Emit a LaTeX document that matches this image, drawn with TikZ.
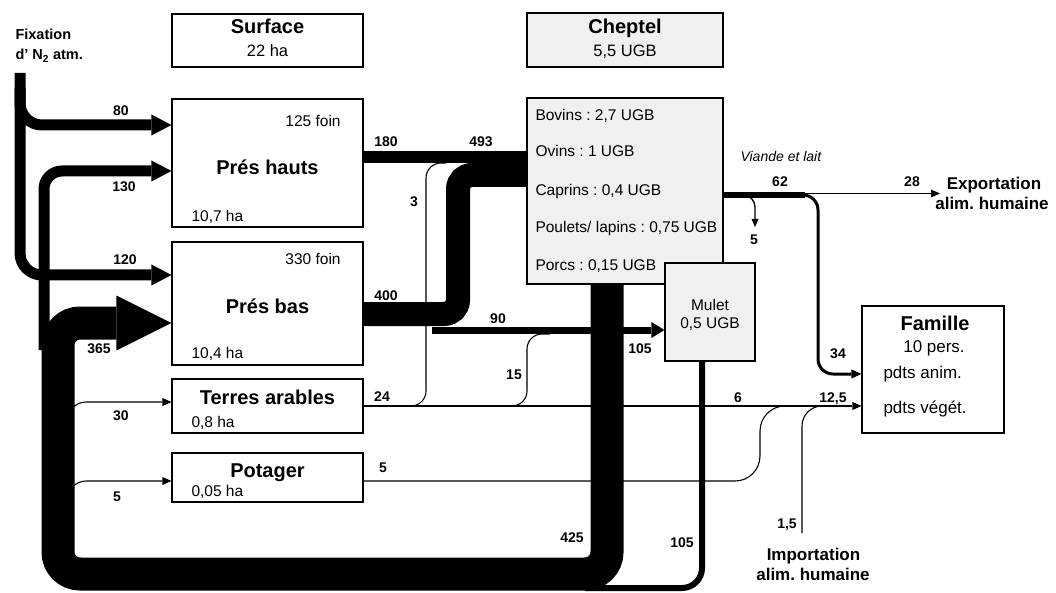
\documentclass[tikz,border=0pt]{standalone}
\usepackage{fontspec}
\setmainfont{Liberation Sans}
\usetikzlibrary{arrows.meta}
\frenchspacing

\begin{document}
\begin{tikzpicture}
	[x=1pt,y=-1pt,
	box/.style={draw,line width=1.1pt,inner sep=0pt},
	grey/.style={fill=black!6},
	title/.style={anchor=base,font=\fontsize{20}{24}\selectfont\bfseries},
	txt/.style={anchor=base,font=\fontsize{15.5}{18}\selectfont},
	lbl/.style={anchor=base,font=\fontsize{14}{17}\selectfont\bfseries},
	far/.style={anchor=base,font=\fontsize{17}{20}\selectfont\bfseries},
	fat/.style={line width=11pt,rounded corners=22pt,-{Triangle[length=20pt,width=21pt,line width=0pt]}},
	thin/.style={line width=1.1pt,-{Triangle[length=9pt,width=8pt,line width=0pt]}}]
	
	\useasboundingbox (0,0) rectangle (1056,593);
	
	% boxes
	\node[box,minimum width=191pt,minimum height=53pt] (surf) at (267.5,40.5) {};
	\node[box,grey,minimum width=196pt,minimum height=54pt] (chephead) at (625,40) {};
	\node[box,minimum width=191pt,minimum height=128pt] (hauts) at (267.5,163) {};
	\node[box,minimum width=191pt,minimum height=123pt] (bas) at (267.5,303.5) {};
	\node[box,minimum width=191pt,minimum height=54pt] (ter) at (267.5,406) {};
	\node[box,minimum width=191pt,minimum height=49pt] (pot) at (267.5,477.5) {};
	\node[box,grey,minimum width=196pt,minimum height=186pt] (chep) at (625,191) {};
	\node[box,grey,minimum width=90pt,minimum height=98pt] (mulet) at (710,312) {};
	\node[box,minimum width=142pt,minimum height=127pt] (fam) at (933,369.5) {};
	
	% texts
	\node[anchor=base west,font=\fontsize{14.5}{17}\selectfont\bfseries] (fix1) at (12,40) {Fixation};
	\node[anchor=base west,font=\fontsize{14.5}{17}\selectfont\bfseries] (fix2) at (12,60) {d' N\textsubscript{2} atm.};
	\node[title] (surft) at (267.5,34) {Surface};
	\node[txt,font=\fontsize{16.5}{19}\selectfont] (surfha) at (267.5,57) {22 ha};
	\node[title] (chept) at (625,34) {Cheptel};
	\node[txt,font=\fontsize{16.5}{19}\selectfont] (chepugb) at (625,57) {5,5 UGB};
	\node[txt] (hautsfoin) at (313,127) {125 foin};
	\node[title] (hautst) at (267.5,175) {Prés hauts};
	\node[txt,anchor=base west] (hautsha) at (188,222) {10,7 ha};
	\node[txt] (basfoin) at (313,265) {330 foin};
	\node[title] (bast) at (267.5,313) {Prés bas};
	\node[txt,anchor=base west] (basha) at (188,358) {10,4 ha};
	\node[title] (tert) at (267.5,404) {Terres arables};
	\node[txt,anchor=base west] (terha) at (188,427) {0,8 ha};
	\node[title] (pott) at (267.5,477) {Potager};
	\node[txt,anchor=base west] (potha) at (188,496) {0,05 ha};
	\node[txt,anchor=base west] (bovins) at (532,121) {Bovins : 2,7 UGB};
	\node[txt,anchor=base west] (ovins) at (532,157) {Ovins : 1 UGB};
	\node[txt,anchor=base west] (caprins) at (532,196) {Caprins : 0,4 UGB};
	\node[txt,anchor=base west] (poulets) at (532,233) {Poulets/ lapins : 0,75 UGB};
	\node[txt,anchor=base west] (porcs) at (532,271) {Porcs : 0,15 UGB};
	\node[txt] (mulett) at (710,310) {Mulet};
	\node[txt] (muletugb) at (710,328) {0,5 UGB};
	\node[title] (famt) at (935,330) {Famille};
	\node[txt,font=\fontsize{17}{20}\selectfont] (fampers) at (934,352) {10 pers.};
	\node[txt,anchor=base west,font=\fontsize{17}{20}\selectfont] (famanim) at (880,378) {pdts anim.};
	\node[txt,anchor=base west,font=\fontsize{17}{20}\selectfont] (famveg) at (880,413) {pdts végét.};
	\node[anchor=base west,font=\fontsize{14}{17}\selectfont\itshape] (viande) at (737,162) {Viande et lait};
	\node[far] (expo1) at (994,190) {Exportation};
	\node[far] (expo2) at (992,210) {alim. humaine};
	\node[far] (impo1) at (813.5,560) {Importation};
	\node[far] (impo2) at (813,580) {alim. humaine};
	
	% fixation d'azote
	\coordinate (fixtop) at (20,73);
	\draw[fat] (fixtop) -- (20,275) -- (bas.west |- 0,275);
	\draw[fat] (20,88) -- (20,125) -- (hauts.west |- 0,125);
	
	% fumier
	\draw[line width=33pt,rounded corners=22pt,-{Triangle[length=55pt,width=55pt,line width=0pt]}]
	(chep.south -| 607,0) -- (607,574) -- (58,574) -- (58,323) -- (bas.west |- 0,323);
	\draw[fat,rounded corners=18pt] (44,350) -- (44,171) -- (hauts.west |- 0,171);
	\draw[thin,rounded corners=18pt] (68,430) -- (68,402) -- (ter.west |- 0,402);
	\draw[thin,rounded corners=18pt] (68,505) -- (68,481) -- (pot.west |- 0,481);
	\draw[line width=6pt,rounded corners=20pt] (mulet.south -| 702,0) -- (702,588) -- (585,588);
	
	% fourrages
	\draw[line width=12pt] (hauts.east |- 0,157) -- (chep.west |- 0,157);
	\draw[line width=24pt,rounded corners=14pt] (bas.east |- 0,314) -- (458,314) -- (458,175) -- (chep.west |- 0,175);
	\draw[line width=7pt,-{Triangle[length=13pt,width=16pt,line width=0pt]}] (432,330) -- (mulet.west |- 0,330);
	\draw[line width=1.1pt,rounded corners=15pt] (ter.east |- 0,406) -- (426,406) -- (426,163) -- (446,163);
	\draw[line width=1.1pt,rounded corners=15pt] (ter.east |- 0,406) -- (527,406) -- (527,334) -- (550,334);
	
	% alimentation humaine
	\draw[thin] (ter.east |- 0,406) -- (fam.west |- 0,406);
	\draw[line width=1.1pt,rounded corners=25pt] (pot.east |- 0,481) -- (760,481) -- (760,406) -- (795,406);
	\coordinate (impsrc) at (802,533);
	\draw[line width=1.1pt,rounded corners=20pt] (impsrc) -- (802,406) -- (828,406);
	\draw[line width=6pt] (chep.east |- 0,195) -- (805,195);
	\coordinate (expend) at (940,193.5);
	\draw[thin] (800,193.5) -- (expend);
	\draw[line width=3pt,rounded corners=15pt,-{Triangle[length=10pt,width=9pt,line width=0pt]}] (795,195) -- (818,195) -- (818,374) -- (fam.west |- 0,374);
	\coordinate (pertes) at (755,227);
	\draw[line width=1.3pt,rounded corners=12pt,-{Triangle[length=8pt,width=7pt,line width=0pt]}] (738,195) -- (755,195) -- (pertes);
	
	% valeurs
	\node[lbl] (v80) at (121,116) {80};
	\node[lbl] (v130) at (124,192) {130};
	\node[lbl] (v120) at (125,265) {120};
	\node[lbl] (v365) at (99,353) {365};
	\node[lbl] (v30) at (121,420) {30};
	\node[lbl] (v5a) at (117,501) {5};
	\node[lbl] (v180) at (386,147) {180};
	\node[lbl] (v493) at (481,147) {493};
	\node[lbl] (v3) at (414,207) {3};
	\node[lbl] (v400) at (386,300) {400};
	\node[lbl] (v90) at (498,323) {90};
	\node[lbl] (v105a) at (640,353) {105};
	\node[lbl] (v15) at (514,379) {15};
	\node[lbl] (v24) at (382,401) {24};
	\node[lbl] (v5b) at (383,472) {5};
	\node[lbl] (v425) at (572,542) {425};
	\node[lbl] (v105b) at (682,547) {105};
	\node[lbl] (v6) at (738,402) {6};
	\node[lbl] (v12) at (833,402) {12,5};
	\node[lbl] (v15b) at (787,528) {1,5};
	\node[lbl] (v62) at (780,187) {62};
	\node[lbl] (v28) at (912,187) {28};
	\node[lbl] (v5c) at (754,245) {5};
	\node[lbl] (v34) at (838,358) {34};
	
\end{tikzpicture}
\end{document}
